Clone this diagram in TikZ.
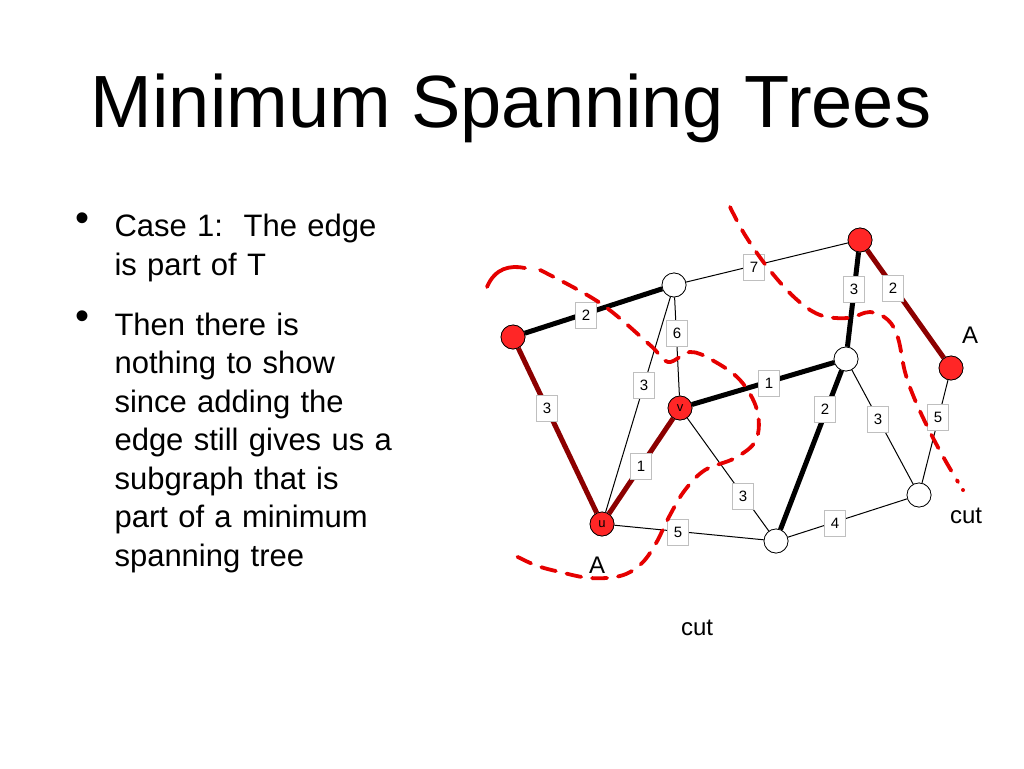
\documentclass[tikz,border=0pt]{standalone}
\usepackage{fontspec}
\setmainfont{Liberation Sans}
\begin{document}
\begin{tikzpicture}[x=1pt,y=-1pt,
  vtx/.style={circle,draw=black,line width=0.7pt,minimum size=24pt,inner sep=0pt,font=\fontsize{13}{13}\selectfont},
  wv/.style={vtx,fill=white},
  rv/.style={vtx,fill=red!85!white},
  thin/.style={draw=black,line width=1pt},
  thickb/.style={draw=black,line width=5pt},
  thickr/.style={draw=red!55!black,line width=5pt},
  wl/.style={fill=white,draw=black!25,line width=0.4pt,inner sep=3pt,minimum width=21pt,minimum height=26pt,font=\fontsize{15}{15}\selectfont},
  cutl/.style={draw=red!90!black,line width=3.8pt,dash pattern=on 15pt off 11pt,line cap=round},
  bt/.style={anchor=north west,align=left,text width=320pt,font=\fontsize{31}{38.5}\selectfont},
  bul/.style={anchor=north west,font=\fontsize{40}{40}\selectfont},
  lab/.style={font=\fontsize{24}{24}\selectfont}]
\useasboundingbox (0,0) rectangle (1024,768);
\node (title) at (511,108) {\fontsize{74}{80}\selectfont Minimum Spanning Trees};
\node (b1) at (72,209) [bul] {\textbullet};
\node (t1) at (111,211) [bt] {Case 1:\ \ The edge\\is part of T};
\node (b2) at (72,307) [bul] {\textbullet};
\node (t2) at (111,309) [bt] {Then there is\\nothing to show\\since adding the\\edge still gives us a\\subgraph that is\\part of a minimum\\spanning tree};
% vertices
\node[rv] (a) at (513,337) {};
\node[wv] (b) at (674,285) {};
\node[rv] (c) at (860,240) {};
\node[rv] (d) at (951,368) {};
\node[wv] (e) at (846,359) {};
\node[rv] (v) at (680,408) {v};
\node[rv] (u) at (602,524) {u};
\node[wv] (f) at (776,541) {};
\node[wv] (g) at (919,495) {};
% edges
\draw[thin] (b) -- (c);
\draw[thin] (b) -- (u);
\draw[thin] (b) -- (v);
\draw[thin] (v) -- (f);
\draw[thin] (u) -- (f);
\draw[thin] (e) -- (g);
\draw[thin] (d) -- (g);
\draw[thin] (f) -- (g);
\draw[thickb] (a) -- (b);
\draw[thickb] (c) -- (e);
\draw[thickb] (v) -- (e);
\draw[thickb] (e) -- (f);
\draw[thickr] (a) -- (u);
\draw[thickr] (c) -- (d);
\draw[thickr] (u) -- (v);
% redraw vertices on top
\node[rv] at (a) {};
\node[wv] at (b) {};
\node[rv] at (c) {};
\node[rv] at (d) {};
\node[wv] at (e) {};
\node[rv] at (v) {v};
\node[rv] at (u) {u};
\node[wv] at (f) {};
\node[wv] at (g) {};
% weights
\node[wl] (w1) at (586,315) {2};
\node[wl] (w2) at (547,408) {3};
\node[wl] (w3) at (754,267) {7};
\node[wl] (w4) at (644,385) {3};
\node[wl] (w5) at (677,333) {6};
\node[wl] (w6) at (854,289) {3};
\node[wl] (w7) at (893,288) {2};
\node[wl] (w8) at (769,383) {1};
\node[wl] (w9) at (641,466) {1};
\node[wl] (w10) at (743,496) {3};
\node[wl] (w11) at (678,532) {5};
\node[wl] (w12) at (825,409) {2};
\node[wl] (w13) at (878,419) {3};
\node[wl] (w14) at (938,417) {5};
\node[wl] (w15) at (835,523) {4};
% cuts
\draw[red!90!black,line width=3.8pt,line cap=round] (487,287) .. controls (495,268) and (510,265) .. (525,268);
\draw[cutl] plot[smooth,tension=0.6] coordinates {(540,270) (600,303) (650,345) (668,362) (690,352) (712,360) (740,380) (757,410) (756,440) (735,458) (705,470) (685,490) (670,515) (655,545) (640,565) (620,576) (590,578) (560,572) (535,565) (508,552)};
\draw[cutl] plot[smooth,tension=0.6] coordinates {(730,207) (745,235) (768,268) (795,298) (820,315) (848,318) (870,312) (888,320) (898,338) (905,372) (915,400) (930,432) (945,460) (958,482)};
\fill[red!90!black] (963,490) circle (2pt);
\node[lab] (A1) at (597,565) {A};
\node[lab] (A2) at (970,335) {A};
\node[lab] (cut1) at (966,516) {cut};
\node[lab] (cut2) at (697,628) {cut};
\end{tikzpicture}
\end{document}
